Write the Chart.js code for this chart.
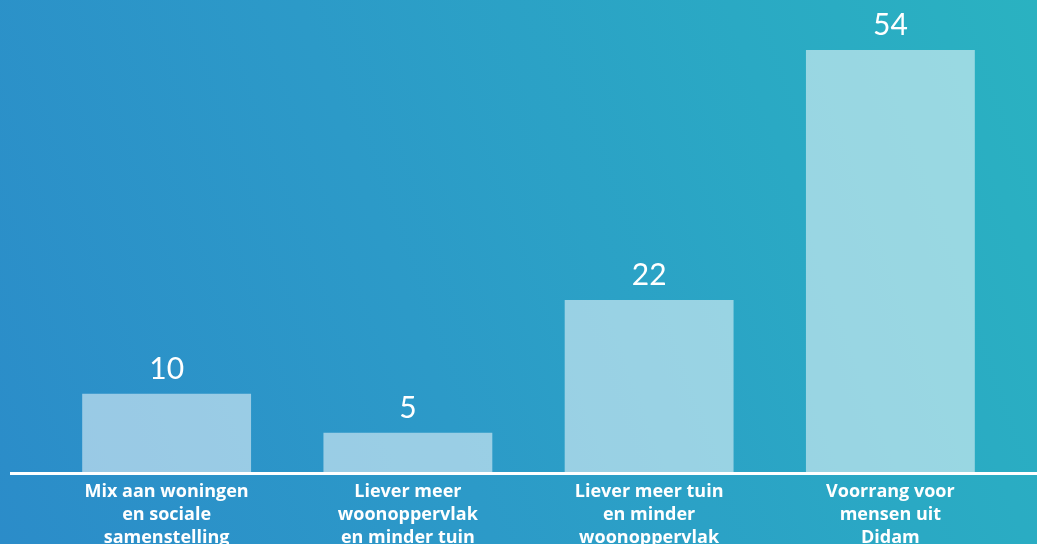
<!DOCTYPE html>
<html lang="nl">
<head>
<meta charset="utf-8">
<title>Voorkeuren woningbouw</title>
<script src="https://cdn.jsdelivr.net/npm/chart.js@4/dist/chart.umd.min.js"></script>
<style>
  html, body {
    margin: 0;
    padding: 0;
    width: 1037px;
    height: 544px;
    overflow: hidden;
  }
  body {
    background: linear-gradient(70deg, #2b8cc9 0%, #2c9ac8 40%, #2aa9c4 75%, #2ab2c1 100%);
  }
  #wrap {
    position: relative;
    width: 1037px;
    height: 544px;
  }
</style>
</head>
<body>
<div id="wrap">
  <canvas id="chart"></canvas>
</div>
<script>
// Categorieën (meerregelige labels) en aantallen
const categories = [
  ["Mix aan woningen", "en sociale", "samenstelling"],
  ["Liever meer", "woonoppervlak", "en minder tuin"],
  ["Liever meer tuin", "en minder", "woonoppervlak"],
  ["Voorrang voor", "mensen uit", "Didam"],
];
const counts = [10, 5, 22, 54];

// Witte basislijn over de volle breedte
const baseLine = {
  id: "baseLine",
  afterDatasetsDraw(chart) {
    const { ctx, chartArea } = chart;
    ctx.save();
    ctx.strokeStyle = "#ffffff";
    ctx.lineWidth = 3;
    ctx.beginPath();
    ctx.moveTo(10, chartArea.bottom + 1.5);
    ctx.lineTo(chart.width, chartArea.bottom + 1.5);
    ctx.stroke();
    ctx.restore();
  },
};

// Waarden boven de staven
const valueLabels = {
  id: "valueLabels",
  afterDatasetsDraw(chart) {
    const { ctx } = chart;
    const meta = chart.getDatasetMeta(0);
    ctx.save();
    ctx.fillStyle = "#ffffff";
    ctx.font = "400 30px Lato";
    ctx.textAlign = "center";
    ctx.textBaseline = "alphabetic";
    meta.data.forEach((bar, i) => {
      ctx.fillText(String(counts[i]), bar.x, bar.y - 15);
    });
    ctx.restore();
  },
};

new Chart(document.getElementById("chart"), {
  type: "bar",
  data: {
    labels: categories,
    datasets: [
      {
        data: counts,
        backgroundColor: "rgba(255, 255, 255, 0.52)",
        borderWidth: 0,
        categoryPercentage: 0.7,
        barPercentage: 1,
      },
    ],
  },
  options: {
    responsive: true,
    maintainAspectRatio: false,
    animation: false,
    layout: {
      padding: { left: 46, right: 26, top: 3, bottom: -13 },
    },
    plugins: {
      legend: { display: false },
      tooltip: { enabled: false },
    },
    scales: {
      x: {
        grid: { display: false, drawTicks: false },
        border: { display: false },
        ticks: {
          color: "#ffffff",
          padding: 8,
          maxRotation: 0,
          autoSkip: false,
          font: { family: "'Open Sans'", weight: "bold", size: 18, lineHeight: 1.28 },
        },
      },
      y: {
        display: false,
        min: 0,
        max: 60,
      },
    },
  },
  plugins: [baseLine, valueLabels],
});
</script>
</body>
</html>
